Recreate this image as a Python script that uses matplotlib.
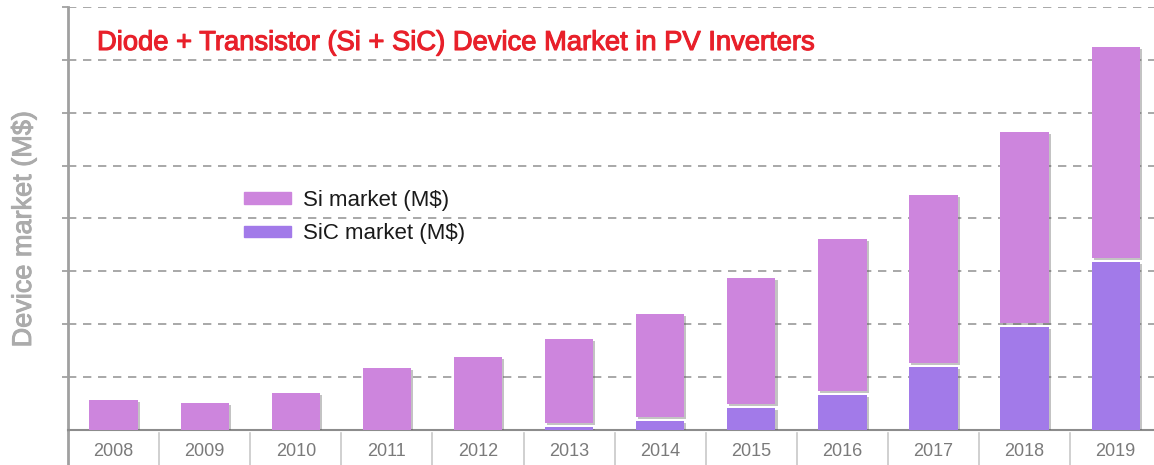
import numpy as np
import matplotlib.pyplot as plt
import matplotlib.patheffects as pe
from matplotlib.patches import Patch

years = ['2008', '2009', '2010', '2011', '2012', '2013',
         '2014', '2015', '2016', '2017', '2018', '2019']
sic_market = [0, 0, 0, 0, 0, 6, 17, 42, 66, 119, 195, 318]
si_market = [57, 51, 70, 117, 138, 159, 195, 238, 289, 319, 361, 399]

si_color = '#cd85dd'
sic_color = '#a27ae9'
gap = 7  # small visual gap between the stacked pieces

plt.rcParams['font.family'] = ['Liberation Sans', 'DejaVu Sans']

fig = plt.figure(figsize=(11.54, 4.65), dpi=100)
ax = fig.add_axes([68/1154, 35/465, 1086/1154, 423/465])

x = np.arange(len(years))
sic = np.array(sic_market)
si_bottom = np.where(sic > 0, sic + gap, 0)

shadow = [pe.SimplePatchShadow(offset=(1.5, -1.5), shadow_rgbFace='#555555', alpha=0.35), pe.Normal()]
b1 = ax.bar(x, sic_market, width=0.53, color=sic_color, zorder=3)
b2 = ax.bar(x, si_market, width=0.53, bottom=si_bottom, color=si_color, zorder=3)
for b in list(b1) + list(b2):
    b.set_path_effects(shadow)

ax.set_xlim(-0.5, 11.42)
ax.set_ylim(0, 800)
ax.set_yticks(np.arange(100, 801, 100))
ax.yaxis.grid(True, linestyle=(0, (5, 4)), color='#9a9a9a', linewidth=1.2, zorder=0)
ax.tick_params(axis='y', length=4, width=1.2, color='#9a9a9a', labelleft=False)

ax.set_xticks(x)
ax.set_xticklabels(years)
ax.tick_params(axis='x', length=0, pad=9, labelsize=13, labelcolor='#7a7a7a')

for s in ['top', 'right']:
    ax.spines[s].set_visible(False)
ax.spines['bottom'].set_color('#8c8c8c')
ax.spines['bottom'].set_linewidth(1.5)
ax.spines['left'].set_color('#a0a0a0')
ax.spines['left'].set_linewidth(2)

# left spine runs down to the bottom edge, separators between years
ax.plot([-0.5, -0.5], [0, -0.09], transform=ax.get_xaxis_transform(),
        color='#a0a0a0', linewidth=2, clip_on=False, solid_capstyle='butt')
for sep in np.arange(0.5, 11, 1):
    ax.plot([sep, sep], [-0.008, -0.09], transform=ax.get_xaxis_transform(),
            color='#c8c8c8', linewidth=1.2, clip_on=False)

ylab = ax.set_ylabel('Device market (M$)', fontsize=19.5, color='#ababab')
ax.yaxis.set_label_coords(-31/1086, (430 - 229) / 423)
ylab.set_path_effects([pe.withStroke(linewidth=0.7, foreground='#ababab')])

title = fig.text(97/1154, 1 - 43/465, 'Diode + Transistor (Si + SiC) Device Market in PV Inverters',
                 color='#e8202a', fontsize=19.7, va='center', ha='left')
title.set_path_effects([pe.withStroke(linewidth=0.8, foreground='#e8202a')])

handles = [Patch(color=si_color), Patch(color=sic_color)]
leg = ax.legend(handles, ['Si market (M$)', 'SiC market (M$)'], frameon=False,
                fontsize=16, handlelength=2.1, handleheight=0.4, handletextpad=0.55,
                labelspacing=0.55, loc='upper left', borderaxespad=0, borderpad=0,
                bbox_to_anchor=((244 - 68) / 1086, (430 - 190) / 423))
for t in leg.get_texts():
    t.set_color('#1a1a1a')

fig.savefig('out.png', dpi=100)
